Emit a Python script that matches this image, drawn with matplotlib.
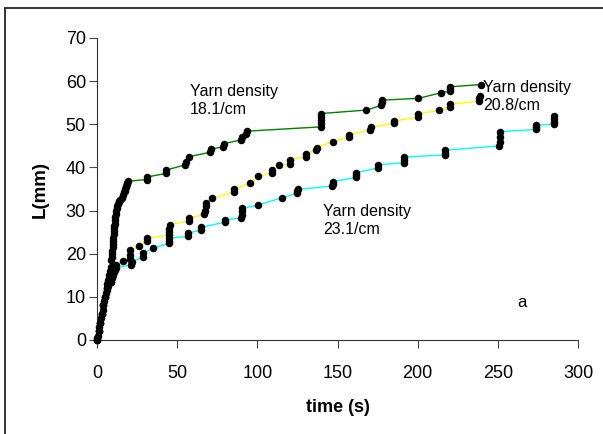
import matplotlib
matplotlib.use("Agg")
import matplotlib.pyplot as plt
from matplotlib.patches import Rectangle

plt.rcParams['font.family'] = ['Liberation Sans', 'DejaVu Sans']

# Yarn density 18.1/cm (green)
t_181 = [0, 0.3, 0.6, 1, 1.5, 2, 2.5, 3, 3.5, 4, 4.5, 5, 5.5, 6, 6.5, 7, 7.5, 8, 8.5,
         9, 9.15, 9.3, 9.5, 9.7, 9.85, 10, 10.2, 10.4, 10.55, 10.7, 10.85, 11, 11.25,
         11.5, 11.75, 12, 12.3, 12.6, 13, 13.5, 14, 14.5, 15.5, 16.5, 17,
         17.4, 17.7, 18, 18.3, 18.7, 19, 19.3,
         31, 31.3, 43, 43.3, 55, 55.5, 57.4, 70.5, 71, 78.5, 79, 90, 90.5, 93, 93.4,
         139.4, 139.5, 139.6, 139.7, 140, 168, 177.4, 177.6, 177.8, 200.4, 214.4,
         220, 220.2, 220.4, 239.3]
L_181 = [0, 0.5, 1, 2, 3, 4, 5, 6, 7, 8, 9, 10, 11, 12, 13, 14, 15, 16, 17,
         18.5, 19.2, 20, 20.7, 21.5, 22.2, 23, 23.7, 24.5, 25.2, 26, 26.5, 27, 27.7,
         28.5, 29.2, 30, 30.5, 31, 31.5, 32, 32.2, 32.5, 33, 33.5, 34.3,
         34.6, 35, 35.4, 35.8, 36.2, 36.5, 36.8,
         37.2, 37.8, 38.6, 39.4, 40.6, 41.3, 42.5, 43.5, 44.2, 44.8, 45.5, 46.4, 47, 47.8, 48.4,
         49.4, 50.2, 51, 51.8, 52.5, 53.3, 54.4, 55.2, 55.6, 56, 57.3,
         57.7, 58.2, 58.7, 59.2]

# Yarn density 20.8/cm (yellow)
t_208 = [0, 1, 2, 3, 4, 5, 6, 7, 8, 9, 9.5, 10, 10.5, 11, 12, 16.4, 20.4, 20.6, 20.8,
         26.4, 31.2, 31.4, 44.6, 44.8, 45, 45.3, 57.5, 57.6, 67, 67.4, 67.8, 68, 71.5,
         85.3, 85.5, 95.3, 100.6, 109, 109.2, 113.7, 120.3, 120.4, 130.2, 130.4, 136.8,
         137, 147.4, 157.2, 157.4, 170.5, 170.7, 185.2, 185.4, 200.3, 200.5, 213.5,
         220.1, 220.3, 238.3, 238.5, 238.7]
L_208 = [0, 2, 4, 6, 8, 10, 11.5, 12.5, 13.5, 13.5, 14.5, 15.5, 16.2, 17, 17.5, 18.2, 18.8, 19.8, 20.8,
         21.8, 23, 23.6, 24.3, 25, 25.8, 26.7, 27.6, 28.3, 29.1, 30, 31, 31.8, 32.8,
         34.3, 35, 36.3, 37.9, 38.8, 39.4, 40.6, 40.8, 41.7, 42.5, 43.2, 44,
         44.6, 46, 47, 47.6, 48.7, 49.3, 50.2, 50.8, 51.6, 52.5, 53.2,
         53.9, 54.6, 55.4, 56, 56.6]

# Yarn density 23.1/cm (cyan)
t_231 = [0, 1, 2, 3, 4, 5, 6, 7, 8, 9, 9.5, 10, 10.5, 11, 11.5, 12,
         21.4, 21.6, 28.7, 28.9, 35.1, 44.8, 45, 45.2, 56.8, 57, 64.7, 64.9, 79.6, 79.8,
         90, 90.2, 90.4, 90.6, 100.6, 115.6, 124.8, 125, 125.2, 146.8, 147, 147.2,
         161.4, 161.6, 161.8, 175.5, 175.5, 191.4, 191.5, 191.6, 216.8, 217, 217.2,
         251, 251.2, 251.4, 251.6, 273.6, 273.9, 274.1, 285, 285, 285, 285]
L_231 = [0, 2, 4, 6, 8, 10, 12, 13.5, 14, 13.5, 14.3, 15, 15.8, 16.2, 16.6, 16.8,
         17.4, 18.1, 19.3, 20.2, 21.3, 22.4, 23, 23.6, 24, 24.8, 25.5, 26.1, 27.3, 27.9,
         28.3, 29, 29.8, 30.5, 31.3, 33, 34, 34.5, 34.9, 35.7, 36.2, 36.7,
         37.7, 38.2, 38.8, 39.9, 40.6, 41.1, 41.7, 42.4, 42.9, 43.4, 44,
         45, 46, 47, 48.3, 48.8, 49.3, 49.8, 50, 50.6, 51.3, 51.9]

x_ticks = [0, 50, 100, 150, 200, 250, 300]
y_ticks = [0, 10, 20, 30, 40, 50, 60, 70]

fig = plt.figure(figsize=(6.03, 4.34), dpi=100)
ax = fig.add_axes([97 / 603, 1 - 340 / 434, 481 / 603, 302 / 434])

# outer frame (figure border, cut at right and bottom)
fig.patches.append(Rectangle((5 / 603, -0.1), 1.1, 1.1 - 8.5 / 434,
                             transform=fig.transFigure, fill=False,
                             edgecolor='#222222', linewidth=1.3))

for t, L, col in [(t_231, L_231, '#00ffff'), (t_208, L_208, '#ffff00'),
                  (t_181, L_181, '#008000')]:
    ax.plot(t, L, color=col, linewidth=1.0, zorder=2)
for t, L in [(t_231, L_231), (t_208, L_208), (t_181, L_181)]:
    ax.plot(t, L, linestyle='none', marker='o', markersize=4.4,
            color='black', clip_on=False, zorder=3)

ax.set_xlim(0, 300)
ax.set_ylim(0, 70)
ax.set_xticks(x_ticks)
ax.set_yticks(y_ticks)
ax.tick_params(axis='both', labelsize=13, length=6, width=0.8, color='#444444')
ax.tick_params(axis='x', pad=12)
ax.tick_params(axis='y', pad=2)
for s in ['top', 'right']:
    ax.spines[s].set_visible(False)
for s in ['left', 'bottom']:
    ax.spines[s].set_linewidth(0.8)
    ax.spines[s].set_color('#333333')

ax.set_xlabel('time (s)', fontsize=13, fontweight='bold', labelpad=12)
ax.set_ylabel('L(mm)', fontsize=13.5, fontweight='bold', labelpad=12)

ax.text(58, 55.6, 'Yarn density\n18.1/cm', fontsize=11.5, va='center', ha='left',
        linespacing=1.25)
ax.text(240.8, 56.4, 'Yarn density\n20.8/cm', fontsize=11.5, va='center', ha='left',
        linespacing=1.25)
ax.text(141, 27.7, 'Yarn density\n23.1/cm', fontsize=11.5, va='center', ha='left',
        linespacing=1.25)
ax.text(265, 8.8, 'a', fontsize=12, va='center', ha='center')

fig.savefig('out.png', dpi=100)
